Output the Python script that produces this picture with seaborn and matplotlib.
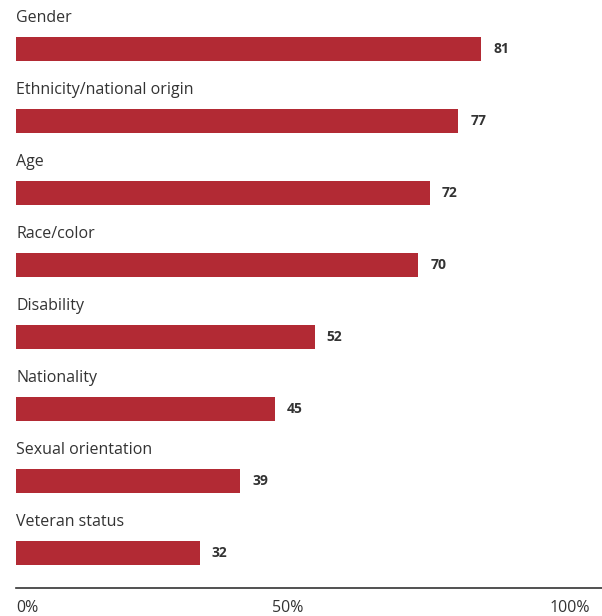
import matplotlib
matplotlib.use("Agg")
import matplotlib.pyplot as plt
import seaborn as sns
import pandas as pd

categories = ["Gender", "Ethnicity/national origin", "Age", "Race/color",
              "Disability", "Nationality", "Sexual orientation", "Veteran status"]
values = [81, 77, 72, 70, 52, 45, 39, 32]
tick_values = [0, 50, 100]
tick_labels = ["0%", "50%", "100%"]

BAR = "#B22A34"
TEXT = "#333333"

sns.set_theme(style="white")
plt.rcParams["font.family"] = ["Open Sans", "DejaVu Sans"]

df = pd.DataFrame({"category": categories, "value": values})

fig = plt.figure(figsize=(6.02, 6.16), dpi=100)
ax = fig.add_axes([16 / 602, 28 / 616, 586 / 602, 588 / 616])

sns.barplot(data=df, x="value", y="category", orient="h", color=BAR,
            width=0.333, saturation=1, linewidth=0, ax=ax)

ax.set_xlim(0, 102)
ax.set_ylim(7.486, -0.68)

for i, (cat, v) in enumerate(zip(categories, values)):
    ax.text(0, i - 0.43, cat, ha="left", va="center", fontsize=11.5,
            color=TEXT)
    ax.text(v + 2.1, i, f"{v}", ha="left", va="center", fontsize=10,
            fontweight="bold", color=TEXT)

ax.set_xticks(tick_values)
ax.set_xticklabels(tick_labels, fontsize=11.5, color=TEXT)
labels = ax.get_xticklabels()
labels[0].set_ha("left")
labels[1].set_ha("right")
labels[2].set_ha("right")
ax.tick_params(axis="x", length=0, pad=9)
ax.set_yticks([])
ax.set_xlabel("")
ax.set_ylabel("")

for side in ["top", "right", "left"]:
    ax.spines[side].set_visible(False)
ax.spines["bottom"].set_color("#333333")
ax.spines["bottom"].set_linewidth(1.2)

fig.savefig("out.png", dpi=100)
